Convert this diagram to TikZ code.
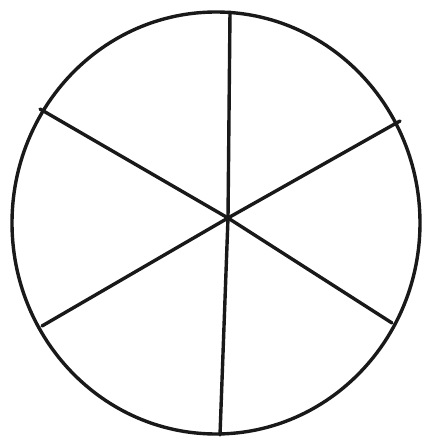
\documentclass[tikz,border=0pt]{standalone}
\begin{document}
\begin{tikzpicture}[x=1pt,y=1pt,
  ink/.style={draw=black!90,line width=3.4pt,line cap=round,line join=round}]
\useasboundingbox[fill=white] (0,0) rectangle (429,445);
\coordinate (c) at (228,227);
\coordinate (t) at (230,433);
\coordinate (b) at (220,10);
\coordinate (ul) at (40,336);
\coordinate (lr) at (392,122);
\coordinate (ur) at (400,324);
\coordinate (ll) at (42,119);
\draw[ink] (216,222) ellipse [x radius=204, y radius=211];
\draw[ink] (t) -- (c) -- (b);
\draw[ink] (ul) -- (c) -- (lr);
\draw[ink] (ur) -- (c) -- (ll);
\end{tikzpicture}
\end{document}
